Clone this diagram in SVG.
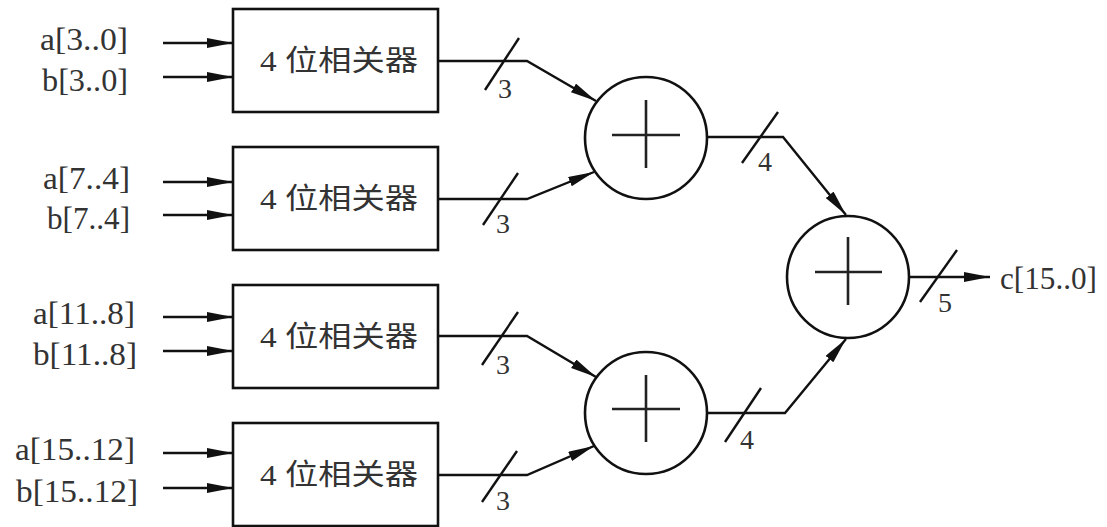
<svg xmlns="http://www.w3.org/2000/svg" width="1107" height="527" viewBox="0 0 1107 527">
<defs>
<marker id="arr" markerUnits="userSpaceOnUse" markerWidth="28" markerHeight="12" refX="26" refY="5" orient="auto">
<path d="M0,0 L26,5 L0,10 Z" fill="#111"/>
</marker>
<style>
.box{fill:#fff;stroke:#111;stroke-width:2.6}
.sum{fill:#fff;stroke:#111;stroke-width:2.6}
.plus{stroke:#222;stroke-width:2.6}
.wire{fill:none;stroke:#111;stroke-width:2.4}
.tick{stroke:#111;stroke-width:2.4}
.lbl{font-family:"Liberation Serif","Noto Sans CJK SC",serif;font-size:32px;fill:#333}
.cn{font-family:"Liberation Serif","Noto Sans CJK SC",serif;font-size:29px;fill:#333}
.num{font-family:"Liberation Serif",serif;font-size:28px;fill:#333;text-anchor:middle}
</style>
</defs>
<rect width="1107" height="527" fill="#fff"/>

<g id="in-labels">
<text class="lbl" x="40" y="50" textLength="88" lengthAdjust="spacingAndGlyphs">a[3..0]</text>
<text class="lbl" x="42" y="91" textLength="86" lengthAdjust="spacingAndGlyphs">b[3..0]</text>
<text class="lbl" x="43" y="189" textLength="87" lengthAdjust="spacingAndGlyphs">a[7..4]</text>
<text class="lbl" x="47" y="229" textLength="83" lengthAdjust="spacingAndGlyphs">b[7..4]</text>
<text class="lbl" x="33" y="324" textLength="102" lengthAdjust="spacingAndGlyphs">a[11..8]</text>
<text class="lbl" x="33" y="365" textLength="104" lengthAdjust="spacingAndGlyphs">b[11..8]</text>
<text class="lbl" x="15" y="460" textLength="120" lengthAdjust="spacingAndGlyphs">a[15..12]</text>
<text class="lbl" x="16" y="502" textLength="122" lengthAdjust="spacingAndGlyphs">b[15..12]</text>
</g>

<g id="box1"><rect class="box" x="233" y="9" width="205" height="103"/><text class="cn" x="260" y="71" textLength="158" lengthAdjust="spacingAndGlyphs">4 位相关器</text></g>
<g id="box2"><rect class="box" x="233" y="147" width="205" height="103"/><text class="cn" x="260" y="209" textLength="158" lengthAdjust="spacingAndGlyphs">4 位相关器</text></g>
<g id="box3"><rect class="box" x="233" y="285" width="205" height="103"/><text class="cn" x="260" y="347" textLength="158" lengthAdjust="spacingAndGlyphs">4 位相关器</text></g>
<g id="box4"><rect class="box" x="233" y="423" width="205" height="103"/><text class="cn" x="260" y="485" textLength="158" lengthAdjust="spacingAndGlyphs">4 位相关器</text></g>

<g id="sum1"><circle class="sum" cx="646" cy="138" r="61"/><path class="plus" d="M612,135 H680 M646,100 V168"/></g>
<g id="sum2"><circle class="sum" cx="646" cy="413" r="61"/><path class="plus" d="M612,409 H680 M646,375 V442"/></g>
<g id="sum3"><circle class="sum" cx="848" cy="277" r="61"/><path class="plus" d="M815,272 H882 M848,237 V305"/></g>

<g id="connectors">
<line class="wire" x1="163" y1="43" x2="233" y2="43" marker-end="url(#arr)"/>
<line class="wire" x1="163" y1="77" x2="233" y2="77" marker-end="url(#arr)"/>
<line class="wire" x1="163" y1="182" x2="233" y2="182" marker-end="url(#arr)"/>
<line class="wire" x1="163" y1="215" x2="233" y2="215" marker-end="url(#arr)"/>
<line class="wire" x1="163" y1="317" x2="233" y2="317" marker-end="url(#arr)"/>
<line class="wire" x1="163" y1="351" x2="233" y2="351" marker-end="url(#arr)"/>
<line class="wire" x1="163" y1="453" x2="233" y2="453" marker-end="url(#arr)"/>
<line class="wire" x1="163" y1="488" x2="233" y2="488" marker-end="url(#arr)"/>

<polyline class="wire" points="438,61 527,61 596,101" marker-end="url(#arr)"/>
<polyline class="wire" points="438,199 527,199 594,172" marker-end="url(#arr)"/>
<polyline class="wire" points="438,336 527,336 596,377" marker-end="url(#arr)"/>
<polyline class="wire" points="438,475 527,475 594,446" marker-end="url(#arr)"/>
<polyline class="wire" points="707,137 783,137 846,215" marker-end="url(#arr)"/>
<polyline class="wire" points="707,413 785,413 846,339" marker-end="url(#arr)"/>
<line class="wire" x1="909" y1="277" x2="990" y2="277" marker-end="url(#arr)"/>

<line class="tick" x1="485" y1="90" x2="519" y2="38"/>
<line class="tick" x1="483" y1="225" x2="518" y2="173"/>
<line class="tick" x1="482" y1="365" x2="518" y2="312"/>
<line class="tick" x1="482" y1="502" x2="517" y2="451"/>
<line class="tick" x1="742" y1="163" x2="778" y2="112"/>
<line class="tick" x1="725" y1="442" x2="761" y2="388"/>
<line class="tick" x1="920" y1="302" x2="957" y2="250"/>

<text class="num" x="505" y="98">3</text>
<text class="num" x="503" y="233">3</text>
<text class="num" x="503" y="374">3</text>
<text class="num" x="503" y="510">3</text>
<text class="num" x="765" y="171">4</text>
<text class="num" x="747" y="449">4</text>
<text class="num" x="945" y="312">5</text>
</g>

<g id="out-label">
<text class="lbl" x="1000" y="289" textLength="97" lengthAdjust="spacingAndGlyphs">c[15..0]</text>
</g>
</svg>
